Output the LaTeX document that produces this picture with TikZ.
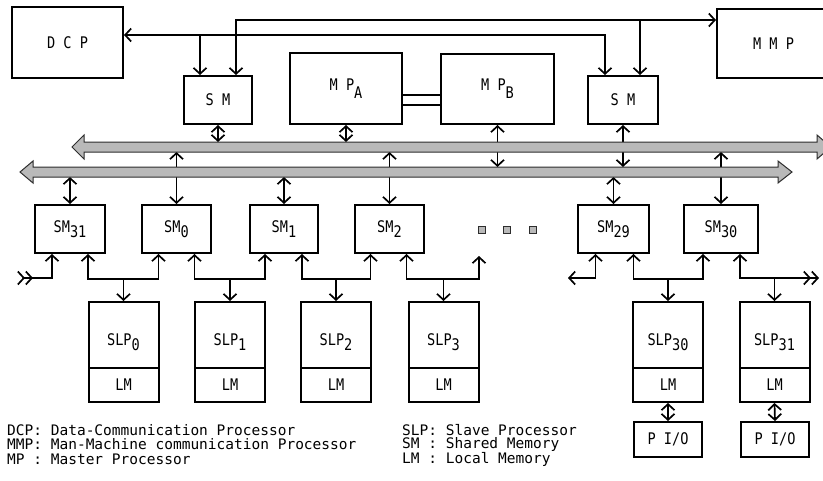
\documentclass[tikz,border=0pt]{standalone}
\usepackage{fontspec}
\newfontfamily\monoA{DejaVu Sans Mono}
\newfontfamily\monoC[FakeStretch=0.85]{DejaVu Sans Mono}
\usetikzlibrary{arrows.meta,calc}
\newcommand{\bxfont}{\monoC\fontsize{16}{16}\selectfont}
\newcommand{\lgfont}{\monoA\fontsize{14.5}{16}\selectfont}
\newcommand{\sbs}[1]{\raisebox{-5pt}{#1}}
\begin{document}
\begin{tikzpicture}[x=1pt,y=-1pt,
  >={Straight Barb[length=6pt,width=13pt]},
  box/.style={draw,line width=2pt,inner sep=0pt,font=\bxfont},
  smbox/.style={box,minimum height=48pt},
  slpbox/.style={box,minimum width=70pt,minimum height=66pt},
  lmbox/.style={box,minimum width=70pt,minimum height=34pt},
  con/.style={line width=1.7pt},
  bus/.style={fill=gray!55,draw=gray!35!black,line width=1pt},
  sq/.style={fill=gray!55,draw=gray!35!black,line width=1pt,minimum size=7pt,inner sep=0pt},
  legend/.style={anchor=west,inner sep=0pt,font=\lgfont}]
\useasboundingbox (0,0) rectangle (823,480);
\clip (0,0) rectangle (823,480);

% top boxes
\node[box,minimum width=111pt,minimum height=71pt] (DCP) at (67.5,42.5) {D C P};
\node[smbox,minimum width=68pt] (SMa) at (218,100) {S M};
\node[box,minimum width=112pt,minimum height=71pt] (MPA) at (346,88.5) {M P\raisebox{-8pt}{A}};
\node[box,minimum width=113pt,minimum height=70pt] (MPB) at (497.5,89) {M P\raisebox{-8pt}{B}};
\node[smbox,minimum width=70pt] (SMb) at (623,100) {S M};
\node[box,minimum width=113pt,minimum height=69pt] (MMP) at (773.5,43.5) {M M P};

% SM row
\node[smbox,minimum width=70pt] (SM31) at (70,229) {SM\sbs{31}};
\node[smbox,minimum width=69pt] (SM0) at (176.5,229) {SM\sbs{0}};
\node[smbox,minimum width=68pt] (SM1) at (284,229) {SM\sbs{1}};
\node[smbox,minimum width=69pt] (SM2) at (389.5,229) {SM\sbs{2}};
\node[smbox,minimum width=71pt] (SM29) at (613.5,229) {SM\sbs{29}};
\node[smbox,minimum width=74pt] (SM30) at (721,229) {SM\sbs{30}};

% dots
\node[sq] (d1) at (482,230) {};
\node[sq] (d2) at (507,230) {};
\node[sq] (d3) at (533,230) {};

% SLP boxes
\foreach \n/\x in {0/123.5,1/230,2/336,3/443.5,30/668,31/774.5}{
  \node[slpbox,label={[font=\bxfont,yshift=-7pt]center:SLP\sbs{\n}}] (SLP\n) at (\x,335) {};
  \node[lmbox] (LM\n) at (\x,385) {LM};
}
\node[box,minimum width=68pt,minimum height=35pt] (PIO30) at (668,439.5) {P I/O};
\node[box,minimum width=68pt,minimum height=35pt] (PIO31) at (775,439.5) {P I/O};

% top connections
\draw[con,<->] ([xshift=-18pt]SMb.north) |- (DCP.east |- 0,35);
\draw[con,->] ([xshift=-18pt]SMa.north |- 0,35) -- ([xshift=-18pt]SMa.north);
\draw[con,<->] ([xshift=18pt]SMa.north) |- (MMP.west |- 0,20);
\draw[con,->] ([xshift=17pt]SMb.north |- 0,20) -- ([xshift=17pt]SMb.north);
\draw[line width=2pt] (MPA.east |- 0,95) -- (MPB.west |- 0,95);
\draw[line width=2pt] (MPA.east |- 0,105) -- (MPB.west |- 0,105);

% bus connections
\draw[con,<->] (SMa.south) -- (SMa.south |- 0,142);
\draw[con,<->] (MPA.south) -- (MPA.south |- 0,142);
\draw[con,<->] (MPB.south) -- (MPB.south |- 0,167);
\draw[con,<->] (SMb.south) -- (SMb.south |- 0,167);
\draw[con,<->] (SM31.north) -- (SM31.north |- 0,177);
\draw[con,<->] (SM0.north) -- (SM0.north |- 0,152);
\draw[con,<->] (SM1.north) -- (SM1.north |- 0,177);
\draw[con,<->] (SM2.north) -- (SM2.north |- 0,152);
\draw[con,<->] (SM29.north) -- (SM29.north |- 0,177);
\draw[con,<->] (SM30.north) -- (SM30.north |- 0,152);

% buses
\path[bus] (72,147) -- (84,135) -- (84,142) -- (817,142) -- (817,135) -- (831,147)
  -- (817,159) -- (817,152) -- (84,152) -- (84,159) -- cycle;
\path[bus] (20,172) -- (33,161) -- (33,167) -- (778,167) -- (778,161) -- (792,172)
  -- (778,183) -- (778,177) -- (33,177) -- (33,183) -- cycle;

% SM - SLP connections
\coordinate (inL) at (17,278);
\coordinate (outA) at (479,256);
\coordinate (outB) at (568,278);
\coordinate (outC) at (819,278);
\draw[con,{Straight Barb[length=6pt,width=13pt,reversed] Straight Barb[length=6pt,width=13pt,reversed]}->] (inL) -| ([xshift=-18pt]SM31.south);
\draw[con,<->] ([xshift=18pt]SM31.south) -- ++(0,25) -| ([xshift=-18pt]SM0.south);
\draw[con,<->] ([xshift=18pt]SM0.south) -- ++(0,25) -| ([xshift=-19pt]SM1.south);
\draw[con,<->] ([xshift=18pt]SM1.south) -- ++(0,25) -| ([xshift=-19pt]SM2.south);
\draw[con,<->] ([xshift=17pt]SM2.south) -- ++(0,25) -| (outA);
\draw[con,<->] ([xshift=-18pt]SM29.south) |- (outB);
\draw[con,<->] ([xshift=20pt]SM29.south) -- ++(0,25) -| ([xshift=-18pt]SM30.south);
\draw[con,<->>] ([xshift=19pt]SM30.south) |- (outC);
\foreach \n in {0,1,2,3,30,31}{
  \draw[con,->] (SLP\n.north |- 0,278) -- (SLP\n.north);
}
\draw[con,<->] (LM30.south) -- (PIO30.north);
\draw[con,<->] (LM31.south) -- (PIO31.north);

% legend
\node[legend] (l1) at (7,430) {DCP: Data-Communication Processor};
\node[legend] (l2) at (7,444.5) {MMP: Man-Machine communication Processor};
\node[legend] (l3) at (7,459) {MP : Master Processor};
\node[legend] (l4) at (402,430) {SLP: Slave Processor};
\node[legend] (l5) at (402,444.5) {SM : Shared Memory};
\node[legend] (l6) at (402,459) {LM : Local Memory};
\end{tikzpicture}
\end{document}
